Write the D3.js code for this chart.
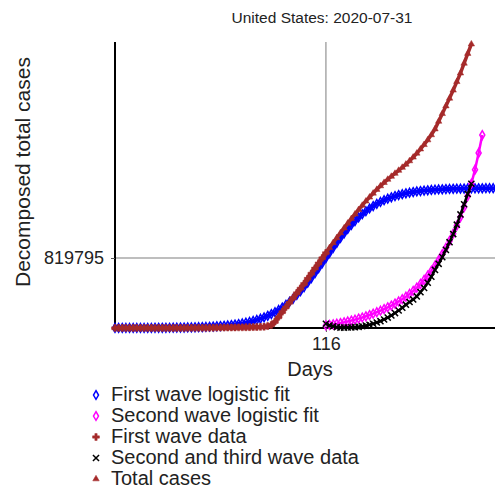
<!DOCTYPE html>
<html>
<head>
    <title>United States: 2020-07-31</title>
    <script src="https://d3js.org/d3.v7.min.js"></script>
    <style>
        body { margin: 0; background: #fff; font-family: "Liberation Sans", Arial, sans-serif; }
        svg text { font-family: "Liberation Sans", Arial, sans-serif; fill: #222; }
    </style>
</head>
<body>
    <div id="chart"></div>

    <script>
        const width = 495, height = 490;

        // every series is sampled every 2 days, starting at its first day
        const step = 2;

        const firstFitStart = 0;
        const firstFit = [328, 377, 443, 508, 590, 672, 787, 902, 1049, 1213, 1410, 1638, 1900, 2194, 2537, 2946,
            3403, 3941, 4561, 5296, 6126, 7085, 8206, 9504, 10993, 12722, 14722, 17021, 19682, 22765, 26313,
            30398, 35107, 40536, 46765, 53929, 62136, 71550, 82317, 94599, 108594, 124481, 142480, 162801,
            185666, 211289, 239846, 271543, 306503, 344832, 386559, 431664, 480009, 531385, 585483, 641902,
            700142, 759646, 819795, 879944, 939448, 997688, 1054107, 1108205, 1159581, 1207926, 1253031,
            1294758, 1333087, 1368047, 1399744, 1428301, 1453924, 1476789, 1497110, 1515109, 1530996,
            1544991, 1557273, 1568040, 1577454, 1585661, 1592825, 1599054, 1604483, 1609192, 1613277,
            1616825, 1619908, 1622569, 1624868, 1626868, 1628597, 1630086, 1631384, 1632505, 1633464,
            1634294, 1635029, 1635649, 1636187, 1636644, 1637053, 1637396, 1637690, 1637950];

        const secondFitStart = 116;
        const secondFit = [30000, 36000, 43000, 50000, 58000, 67000, 77000, 87000, 98000, 110000, 123000,
            137000, 152000, 168000, 185000, 203000, 222000, 242000, 263000, 286000, 311000, 338000, 367000,
            399000, 434000, 473000, 516000, 563000, 614000, 670000, 730000, 795000, 865000, 940000, 1020000,
            1105000, 1200000, 1300000, 1415000, 1545000, 1690000, 1855000, 2050000, 2260000];

        const firstDataStart = 0;
        const firstData = [0, 0, 0, 0, 0, 0, 0, 0, 0, 0, 0, 0, 0, 0, 0, 0,
            100, 200, 300, 500, 700, 900, 1200, 1500, 1800, 2200, 2600, 3000, 3500, 4000, 4500, 5000,
            5600, 6200, 6900, 7600, 8400, 9200, 10000, 11000, 12500, 15000,
            22000, 35000, 75000, 130000, 190000, 245000, 300000, 355000, 410000, 465000, 520000, 580000,
            640000, 700000, 760000, 820000, 880000];

        const secondDataStart = 116;
        const secondData = [50000, 30000, 20000, 10000, 5000, 5000, 6000, 8000, 10000, 14000,
            20000, 28000, 38000, 50000, 64000, 80000, 100000, 122000, 147000, 175000,
            205000, 238000, 273000, 305000, 335000, 370000, 420000, 470000, 530000, 600000,
            680000, 752000, 830000, 915000, 1005000, 1100000, 1210000, 1330000, 1450000, 1570000, 1690000];

        const totalStart = 0;
        const totalCases = [0, 0, 0, 0, 0, 0, 0, 0, 0, 0, 0, 0, 0, 0, 0, 0,
            100, 200, 300, 500, 700, 900, 1200, 1500, 1800, 2200, 2600, 3000, 3500, 4000, 4500, 5000,
            5600, 6200, 6900, 7600, 8400, 9200, 10000, 11000, 12500, 15000,
            22000, 35000, 75000, 130000, 190000, 245000, 300000, 355000, 410000, 465000, 520000, 580000,
            640000, 700000, 760000, 820000, 880000,
            940000, 998000, 1056000, 1113000, 1170000, 1226000, 1280000, 1333000, 1385000, 1436000,
            1485000, 1532000, 1578000, 1622000, 1664000, 1703000, 1740000, 1775000, 1810000, 1845000,
            1880000, 1917000, 1957000, 2000000, 2046000, 2095000, 2147000, 2202000, 2262000, 2330000,
            2420000, 2510000, 2600000, 2690000, 2785000, 2885000, 2985000, 3100000, 3215000, 3325000];

        const xTicks = [116];
        const yTicks = [819795];
        const legendLabels = ["First wave logistic fit", "Second wave logistic fit", "First wave data",
            "Second and third wave data", "Total cases"];

        const pts = (start, vals) => vals.map((v, i) => [start + i * step, v]);

        const series = [
            { name: legendLabels[0], data: pts(firstFitStart, firstFit), color: "#0000ff",
              symbol: d3.symbolDiamond, size: 22, filled: false, lw: 4 },
            { name: legendLabels[1], data: pts(secondFitStart, secondFit), color: "#ff00ff",
              symbol: d3.symbolDiamond, size: 22, filled: false, lw: 2.5 },
            { name: legendLabels[2], data: pts(firstDataStart, firstData), color: "#a52a2a",
              symbol: d3.symbolCross, size: 26, filled: true, lw: 4 },
            { name: legendLabels[3], data: pts(secondDataStart, secondData), color: "#000000",
              symbol: d3.symbolTimes, size: 26, filled: false, lw: 2.5 },
            { name: legendLabels[4], data: pts(totalStart, totalCases), color: "#a52a2a",
              symbol: d3.symbolTriangle, size: 18, filled: true, lw: 3.5 }
        ];

        const plotLeft = 115, plotRight = 495, plotTop = 42, plotBottom = 328;

        const x = d3.scaleLinear().domain([0, 209]).range([plotLeft, plotRight]);
        const y = d3.scaleLinear().domain([0, 3350000]).range([plotBottom, plotTop]);

        const svg = d3.select("#chart").append("svg")
            .attr("width", width)
            .attr("height", height);

        // grid lines at the inflection tick
        svg.append("g").selectAll("line").data(xTicks).join("line")
            .attr("x1", d => x(d)).attr("x2", d => x(d))
            .attr("y1", plotTop).attr("y2", plotBottom)
            .attr("stroke", "#a8a8a8").attr("stroke-width", 1.5);
        svg.append("g").selectAll("line").data(yTicks).join("line")
            .attr("x1", plotLeft).attr("x2", plotRight)
            .attr("y1", d => y(d)).attr("y2", d => y(d))
            .attr("stroke", "#a8a8a8").attr("stroke-width", 1.5);

        // axes
        const xAxis = svg.append("g")
            .attr("transform", `translate(0,${plotBottom})`)
            .call(d3.axisBottom(x).tickValues(xTicks).tickSize(4).tickPadding(5).tickFormat(d3.format("d")));
        const yAxis = svg.append("g")
            .attr("transform", `translate(${plotLeft},0)`)
            .call(d3.axisLeft(y).tickValues(yTicks).tickSize(4).tickPadding(7).tickFormat(d3.format("d")));
        [xAxis, yAxis].forEach(a => {
            a.select(".domain").attr("stroke", "#000").attr("stroke-width", 2);
            a.selectAll(".tick line").attr("stroke", "#555");
            a.selectAll(".tick text").attr("font-size", 18).attr("fill", "#222");
        });
        xAxis.select(".domain").attr("d", `M${plotLeft},0H${plotRight}`);
        yAxis.select(".domain").attr("d", `M0,${plotBottom}V${plotTop}`);

        // series: joining line then dense markers
        const line = d3.line().x(d => x(d[0])).y(d => y(d[1]));
        series.forEach(s => {
            const g = svg.append("g");
            g.append("path").datum(s.data)
                .attr("d", line)
                .attr("fill", "none")
                .attr("stroke", s.color)
                .attr("stroke-width", s.lw);
            g.selectAll("path.m").data(s.data).join("path")
                .attr("class", "m")
                .attr("transform", d => `translate(${x(d[0])},${y(d[1])})`)
                .attr("d", d3.symbol().type(s.symbol).size(s.size))
                .attr("fill", s.filled ? s.color : "none")
                .attr("stroke", s.color)
                .attr("stroke-width", s.filled ? 0.5 : 1.5);
        });

        // labels
        svg.append("text")
            .attr("x", 322).attr("y", 23)
            .attr("text-anchor", "middle")
            .attr("font-size", 15.5)
            .text("United States: 2020-07-31");

        svg.append("text")
            .attr("x", 310).attr("y", 376)
            .attr("text-anchor", "middle")
            .attr("font-size", 20)
            .text("Days");

        svg.append("text")
            .attr("transform", "translate(30,172) rotate(-90)")
            .attr("text-anchor", "middle")
            .attr("font-size", 21)
            .text("Decomposed total cases");

        // legend: rows packed tightly as in the original
        const legend = svg.append("g").selectAll("g").data(series).join("g")
            .attr("transform", (d, i) => `translate(96,${401 + i * 21})`);
        legend.append("path")
            .attr("transform", "translate(0,-6)")
            .attr("d", d => d3.symbol().type(d.symbol).size(d.size)())
            .attr("fill", d => d.filled ? d.color : "none")
            .attr("stroke", d => d.color)
            .attr("stroke-width", d => d.filled ? 0.5 : 1.5);
        legend.append("text")
            .attr("x", 15).attr("y", 0)
            .attr("font-size", 20)
            .text(d => d.name);
    </script>
</body>
</html>
